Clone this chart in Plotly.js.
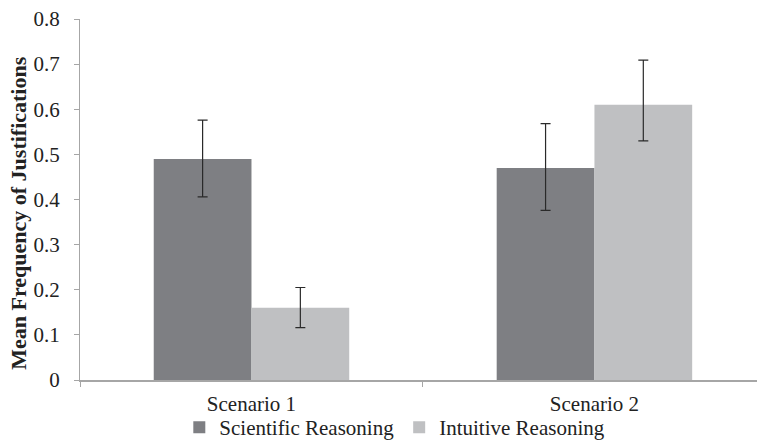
<!DOCTYPE html>
<html>
<head>
<meta charset="utf-8">
<script src="https://cdn.plot.ly/plotly-3.0.1.min.js"></script>
<style>html,body{margin:0;padding:0;background:#fff;}#chart{width:757px;height:444px;}</style>
</head>
<body>
<div id="chart"></div>
<script>
const categories = ["Scenario 1", "Scenario 2"];
const scientific = [0.49, 0.47];
const scientificErrPlus = [0.086, 0.098];
const scientificErrMinus = [0.084, 0.094];
const intuitive = [0.16, 0.61];
const intuitiveErrPlus = [0.045, 0.099];
const intuitiveErrMinus = [0.044, 0.08];
const yTicks = [0, 0.1, 0.2, 0.3, 0.4, 0.5, 0.6, 0.7, 0.8];
const yTickText = ["0", "0.1", "0.2", "0.3", "0.4", "0.5", "0.6", "0.7", "0.8"];

const font = {family: "Liberation Serif", size: 21, color: "#222"};
const errStyle = {color: "#2a2a2a", thickness: 1.2, width: 5};

const data = [
  {
    type: "bar", name: "Scientific Reasoning", x: categories, y: scientific,
    marker: {color: "#7e7f83"},
    error_y: Object.assign({type: "data", symmetric: false, array: scientificErrPlus, arrayminus: scientificErrMinus}, errStyle)
  },
  {
    type: "bar", name: "Intuitive Reasoning", x: categories, y: intuitive,
    marker: {color: "#bfc0c2"},
    error_y: Object.assign({type: "data", symmetric: false, array: intuitiveErrPlus, arrayminus: intuitiveErrMinus}, errStyle)
  }
];

const layout = {
  width: 757, height: 444,
  margin: {l: 80, r: 0, t: 19, b: 64, autoexpand: false},
  paper_bgcolor: "#fff", plot_bgcolor: "#fff",
  font: font,
  barmode: "group",
  bargap: 0.43, bargroupgap: 0,
  showlegend: true,
  legend: {
    orientation: "h", x: 0.465, xanchor: "center", y: -0.075, yanchor: "top",
    bgcolor: "rgba(0,0,0,0)",
    font: font, itemwidth: 30, tracegroupgap: 0, traceorder: "normal"
  },
  xaxis: {
    type: "category", range: [-0.5, 1.474], fixedrange: true,
    showline: true, linecolor: "#a6a6a6", linewidth: 1.5,
    ticks: "outside", tickson: "boundaries", ticklen: 5, tickcolor: "#a6a6a6",
    ticklabelstandoff: 4,
    showgrid: false, zeroline: false, tickfont: font
  },
  yaxis: {
    range: [0, 0.8], tickvals: yTicks, ticktext: yTickText,
    showline: true, linecolor: "#a6a6a6", linewidth: 1,
    ticks: "outside", ticklen: 5, tickcolor: "#a6a6a6",
    ticklabelstandoff: 10,
    showgrid: false, zeroline: false, tickfont: font,
    title: {text: "<b>Mean Frequency of Justifications\u00a0\u00a0\u00a0\u00a0\u00a0</b>", font: {family: "Liberation Serif", size: 22, color: "#222"}, standoff: 0}
  }
};

Plotly.newPlot("chart", data, layout, {displayModeBar: false, staticPlot: true});
</script>
</body>
</html>
